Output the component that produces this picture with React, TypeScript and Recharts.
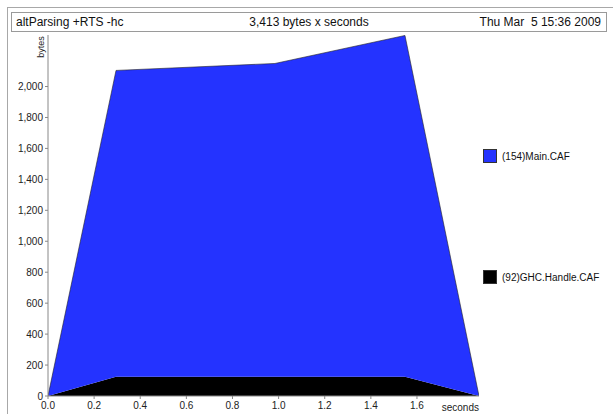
import React from "react";
import { Area, AreaChart, Legend, XAxis, YAxis } from "recharts";

// heap profile samples (hp2ps -hc)
const seconds = [0, 0.295, 0.984, 1.548, 1.869];
const mainCaf = [0, 1979, 2024, 2205, 0];
const ghcHandleCaf = [0, 125, 125, 125, 0];

const xTicks = [0, 0.2, 0.4, 0.6, 0.8, 1.0, 1.2, 1.4, 1.6];
const yTicks = [0, 200, 400, 600, 800, 1000, 1200, 1400, 1600, 1800, 2000];

const programName = "altParsing +RTS -hc";
const totalLabel = "3,413 bytes x seconds";
const dateLabel = "Thu Mar  5 15:36 2009";

const MAIN_NAME = "(154)Main.CAF";
const GHC_NAME = "(92)GHC.Handle.CAF";

const FONT = "'Liberation Sans', Arial, Helvetica, sans-serif";
const BLUE = "#2433ff";
const BLACK = "#000000";

const data = seconds.map((t, i) => ({
  t,
  main: mainCaf[i],
  ghc: ghcHandleCaf[i],
}));

// key entries, top band first
const legendItems = [
  { name: MAIN_NAME, color: BLUE },
  { name: GHC_NAME, color: BLACK },
];

const LegendBox = () => (
  <div style={{ position: "relative", width: 130, height: 136, fontFamily: FONT }}>
    {legendItems.map((item, i) => (
      <div
        key={item.name}
        style={{ position: "absolute", left: 0, top: i * 121, height: 14, display: "flex", alignItems: "center" }}
      >
        <div
          style={{
            width: 14,
            height: 14,
            background: item.color,
            border: "0.5px solid #333",
            boxSizing: "border-box",
          }}
        />
        <span style={{ marginLeft: 5, fontSize: 10, color: "#111", whiteSpace: "nowrap" }}>{item.name}</span>
      </div>
    ))}
  </div>
);

export default function App() {
  return (
    <div style={{ position: "absolute", left: 0, top: 0, width: 613, height: 414, background: "#fff", overflow: "hidden" }}>
      {/* page frame */}
      <div
        style={{
          position: "absolute",
          left: 7,
          top: 7,
          width: 640,
          height: 440,
          borderLeft: "1px solid #a8a8a8",
          borderTop: "1px solid #a8a8a8",
        }}
      />
      {/* title box */}
      <div
        style={{
          position: "absolute",
          left: 11,
          top: 12,
          width: 594,
          height: 18,
          border: "1px solid #9a9a9a",
          fontFamily: FONT,
          fontSize: 12,
          color: "#111",
          lineHeight: "18px",
        }}
      >
        <span style={{ position: "absolute", left: 4 }}>{programName}</span>
        <span style={{ position: "absolute", left: 0, right: 0, textAlign: "center" }}>{totalLabel}</span>
        <span style={{ position: "absolute", right: 5, whiteSpace: "pre" }}>{dateLabel}</span>
      </div>
      <div style={{ position: "absolute", left: 0, top: 0 }}>
        <AreaChart
          width={613}
          height={414}
          data={data}
          margin={{ top: 35, right: 134, bottom: 0, left: 0 }}
          style={{ fontFamily: FONT }}
        >
          <XAxis
            type="number"
            dataKey="t"
            domain={[0, 1.869]}
            ticks={xTicks}
            allowDataOverflow
            height={18}
            tickFormatter={(v: number) => v.toFixed(1)}
            tick={{ fontSize: 10, fill: "#222" }}
            tickSize={3}
            tickMargin={3}
            axisLine={{ stroke: "#888" }}
            tickLine={{ stroke: "#888" }}
            label={({ viewBox }: any) => (
              <text
                x={viewBox.x + viewBox.width}
                y={viewBox.y + 15}
                textAnchor="end"
                fontSize={10}
                fill="#222"
                fontFamily={FONT}
              >
                seconds
              </text>
            )}
          />
          <YAxis
            type="number"
            domain={[0, 2333]}
            ticks={yTicks}
            allowDataOverflow
            width={48}
            tickFormatter={(v: number) => v.toLocaleString("en-US")}
            tick={{ fontSize: 10, fill: "#222" }}
            tickSize={3}
            tickMargin={2}
            axisLine={{ stroke: "#888" }}
            tickLine={{ stroke: "#888" }}
            label={({ viewBox }: any) => (
              <text
                x={41}
                y={viewBox.y + 12}
                transform={`rotate(-90, 41, ${viewBox.y + 12})`}
                textAnchor="middle"
                dominantBaseline="central"
                fontSize={9}
                fill="#222"
                fontFamily={FONT}
              >
                bytes
              </text>
            )}
          />
          <Legend
            layout="vertical"
            align="center"
            verticalAlign="middle"
            content={<LegendBox />}
            wrapperStyle={{ left: 483, top: 149, width: 130 }}
          />
          <Area
            type="linear"
            dataKey="ghc"
            name={GHC_NAME}
            stackId="heap"
            stroke="none"
            fill={BLACK}
            fillOpacity={1}
            isAnimationActive={false}
          />
          <Area
            type="linear"
            dataKey="main"
            name={MAIN_NAME}
            stackId="heap"
            stroke="#222"
            strokeWidth={0.6}
            fill={BLUE}
            fillOpacity={1}
            isAnimationActive={false}
          />
        </AreaChart>
      </div>
    </div>
  );
}
